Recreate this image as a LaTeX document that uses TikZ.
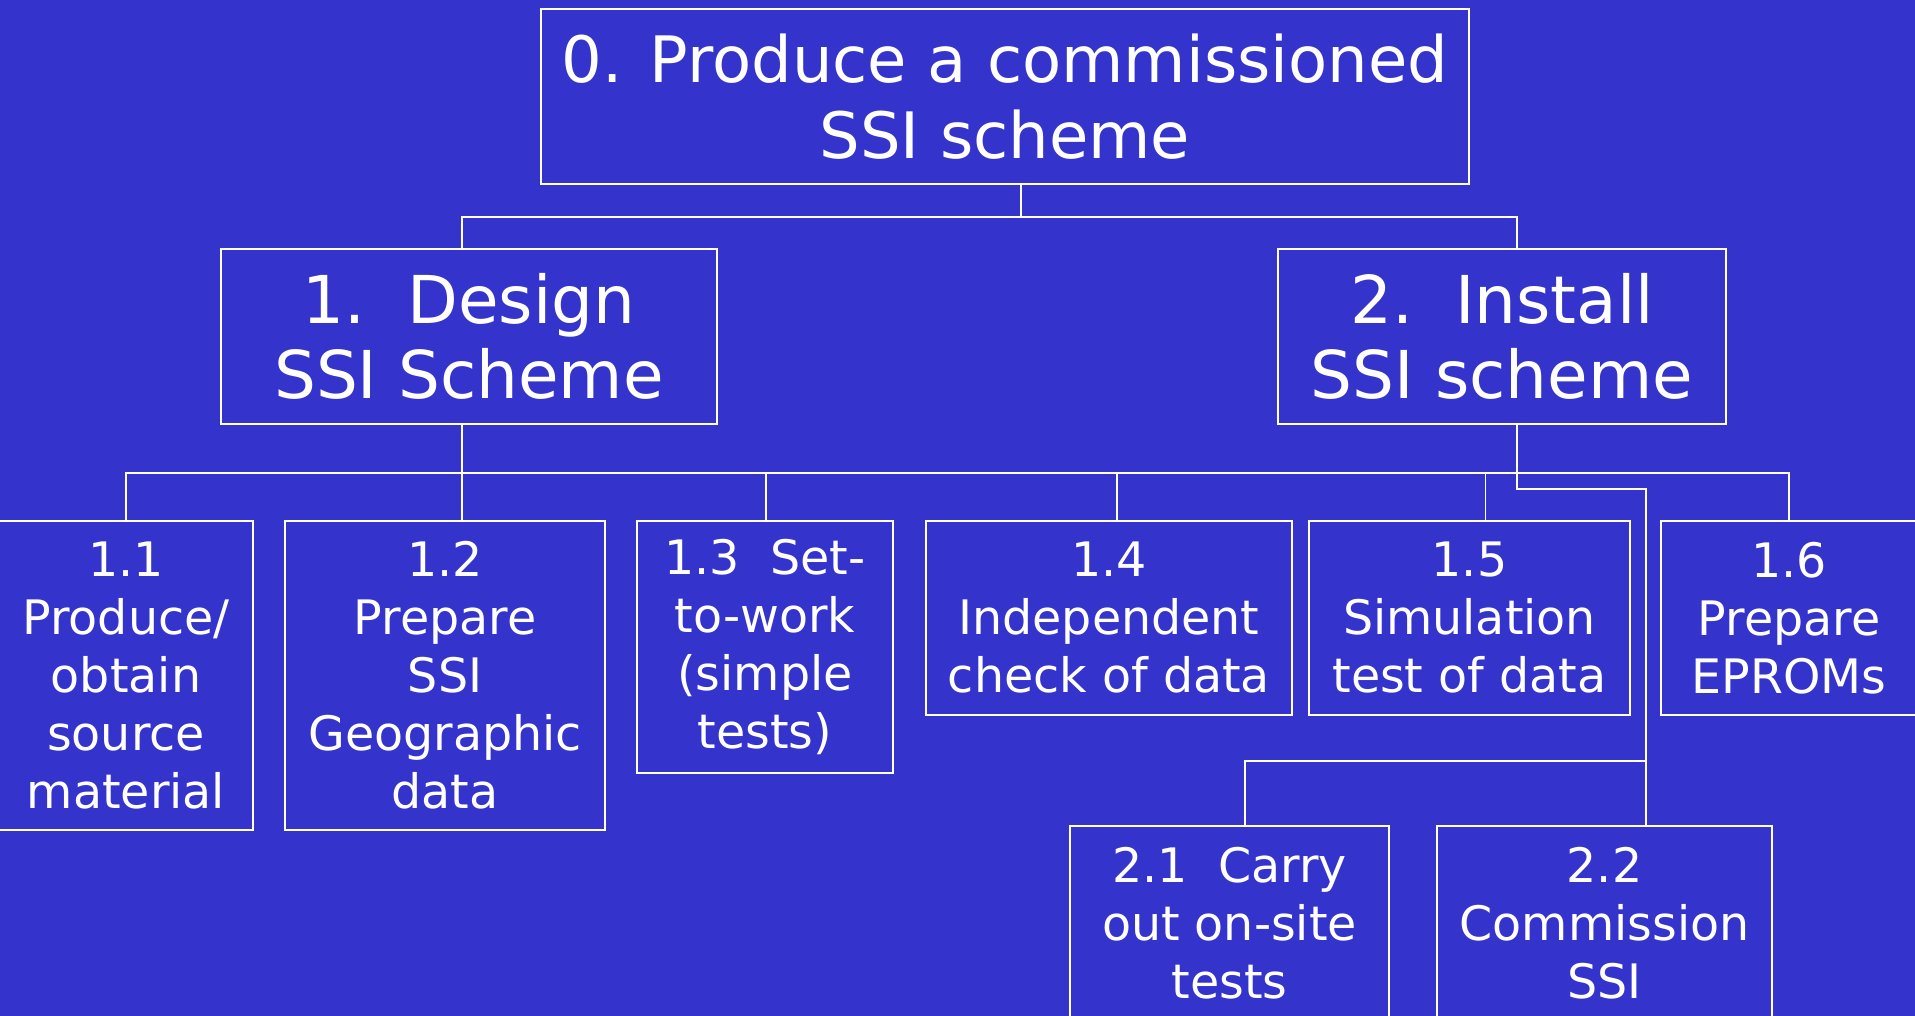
\documentclass[tikz,border=0pt]{standalone}
\usepackage{fontspec}
\setmainfont{DejaVu Sans}
\usepackage{tikz}
\usetikzlibrary{positioning}
\definecolor{slideblue}{RGB}{52,52,204}

\begin{document}
\begin{tikzpicture}[x=1pt, y=-1pt,
  box/.style={draw=white, line width=1.8pt, text=white, align=center, inner sep=0pt},
  toptext/.style={font=\fontsize{64}{76}\selectfont},
  bigtext/.style={font=\fontsize{66}{75}\selectfont},
  smalltext/.style={font=\fontsize{47.5}{58}\selectfont},
  link/.style={draw=white, line width=1.5pt}]
\fill[slideblue] (0,0) rectangle (1915,1016);
\useasboundingbox (0,0) rectangle (1915,1016);

% top levels
\node[box, toptext, minimum width=928, minimum height=175] (root) at (1005,96.5) {0. Produce a commissioned\\SSI scheme};
\node[box, bigtext, minimum width=496, minimum height=175] (design) at (469,336.5) {1.\ \ Design\\SSI Scheme};
\node[box, bigtext, minimum width=448, minimum height=175] (install) at (1502,336.5) {2.\ \ Install\\SSI scheme};

% design tasks
\node[box, smalltext, minimum width=254, minimum height=309] (n11) at (126,675.5) {1.1\\Produce/\\obtain\\source\\material};
\node[box, smalltext, minimum width=320, minimum height=309] (n12) at (445,675.5) {1.2\\Prepare\\SSI\\Geographic\\data};
\node[box, smalltext, minimum width=256, minimum height=252] (n13) at (765,647) {1.3\ \ Set-\\to-work\\(simple\\tests)};
\node[box, smalltext, minimum width=366, minimum height=194] (n14) at (1109,618) {1.4\\Independent\\check of data};
\node[box, smalltext, minimum width=321, minimum height=194] (n15) at (1469.5,618) {1.5\\Simulation\\test of data};
\node[box, smalltext, minimum width=256, minimum height=194] (n16) at (1789,618) {1.6\\Prepare\\EPROMs};

% install tasks
\node[box, smalltext, minimum width=319, minimum height=194] (n21) at (1229.5,923) {2.1\ \ Carry\\out on-site\\tests};
\node[box, smalltext, minimum width=335, minimum height=194] (n22) at (1604.5,923) {2.2\\Commission\\SSI};

\coordinate (bus0) at (1021,217);
\coordinate (bus1) at (0,473);
\coordinate (jog) at (1646,489);
\coordinate (fork) at (1646,761);

\draw[link] ([xshift=16pt]root.south) -- (bus0);
\draw[link] ([xshift=-7pt]design.north) |- (bus0) -| ([xshift=15pt]install.north);

\draw[link] ([xshift=-7pt]design.south) -- ([xshift=17pt]n12.north);
\draw[link] (n11.north) -- (n11.north |- bus1) -- (n16.north |- bus1) -- (n16.north);
\foreach \n/\s in {n13/1, n14/8, n15/16}
  \draw[link] ([xshift=\s pt]\n.north) -- ([xshift=\s pt]\n.north |- bus1);

\draw[link] ([xshift=15pt]install.south) |- (jog) -- ([xshift=41.5pt]n22.north);
\draw[link] (fork) -| ([xshift=15.5pt]n21.north);
\end{tikzpicture}
\end{document}
